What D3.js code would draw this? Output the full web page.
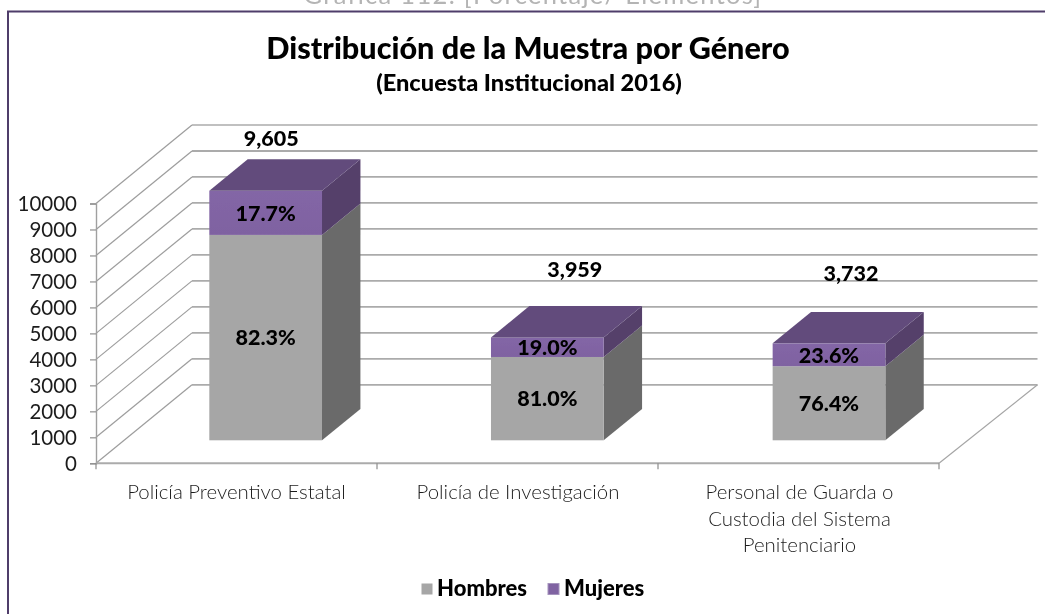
<!DOCTYPE html>
<html><head><meta charset="utf-8">
<script src="https://cdn.jsdelivr.net/npm/d3@7/dist/d3.min.js"></script>
<style>html,body{margin:0;padding:0;background:#fff}svg{display:block}text{font-family:Lato,sans-serif}</style>
</head><body><svg id="c" width="1045" height="614"></svg>
<script>
const pageCaption = "Gráfica 112. [Porcentaje/ Elementos]";
const titleText = "Distribución de la Muestra por Género";
const subtitleText = "(Encuesta Institucional 2016)";
const categories = ["Policía Preventivo Estatal","Policía de Investigación","Personal de Guarda o|Custodia del Sistema|Penitenciario"];
const seriesNames = ["Hombres","Mujeres"];
const hombres = [7905,3207,2851];
const mujeres = [1700,752,881];
const hombresLabels = ["82.3%","81.0%","76.4%"];
const mujeresLabels = ["17.7%","19.0%","23.6%"];
const totalLabels = ["9,605","3,959","3,732"];
const yTicks = [0,1000,2000,3000,4000,5000,6000,7000,8000,9000,10000];

const C = {grey:"#a6a6a6",greySide:"#6b6b6b",purple:"#8064a2",purpleTop:"#624c7b",purpleSide:"#543f6b",grid:"#ababab",axisText:"#1c1c1c",frame:"#4f3d6b"};
const svg = d3.select("#c");
const defs = svg.append("defs");
defs.append("filter").attr("id","soft").attr("x",0).attr("y",0).attr("width","100%").attr("height","100%")
  .append("feGaussianBlur").attr("stdDeviation",0.4);
const root = svg.append("g").attr("filter","url(#soft)");
root.append("rect").attr("width",1045).attr("height",614).attr("fill","#fff");

const y = d3.scaleLinear().domain([0,10000]).range([463.3,203.5]);
const x = d3.scaleBand().domain(categories).range([96,939]);
const xBar = d3.scaleBand().domain(categories).range([95,940]);
// oblique depth projection
const dX = d3.scaleLinear().domain([0,1]).range([0,96]);
const dY = d3.scaleLinear().domain([0,1]).range([0,-78.5]);
const barW = 112.7, dNear = 0.293, dFar = 0.693, barShift = 1.7, gridEnd = 1037.5;
const totalNudge = [[5.5,-21],[27.5,-37],[22,-39]];

// page caption and frame
root.append("text").attr("x",533).attr("y",4).attr("text-anchor","middle").attr("fill","#b4b4b4")
  .style("font-size","25.5px").style("letter-spacing","1.3px").text(pageCaption);
root.append("path").attr("d","M8,614V11.5H1045").attr("fill","none").attr("stroke",C.frame).attr("stroke-width",2);

// titles
root.append("text").attr("x",528).attr("y",59).attr("text-anchor","middle").attr("font-weight",900)
  .attr("fill","#000").style("font-size","30.6px").text(titleText);
root.append("text").attr("x",529).attr("y",91).attr("text-anchor","middle").attr("font-weight",900)
  .attr("fill","#000").style("font-size","23.6px").text(subtitleText);

const g = root.append("g");
// walls
g.selectAll("path.wall").data(yTicks).join("path").attr("class","wall")
  .attr("d",t=>`M${x.range()[0]},${y(t)}L${x.range()[0]+dX(1)},${y(t)+dY(1)}`)
  .attr("fill","none").attr("stroke","#9d9d9d").attr("stroke-width",1.2);
g.selectAll("line.grid").data(yTicks).join("line").attr("class","grid")
  .attr("x1",x.range()[0]+dX(1)).attr("x2",gridEnd)
  .attr("y1",t=>y(t)+dY(1)).attr("y2",t=>y(t)+dY(1))
  .attr("stroke",C.grid).attr("stroke-width",t=>t===10000?1.4:1.8);
// floor
g.append("path").attr("d",`M${x.range()[1]},${y(0)}L${gridEnd},${y(0)+dY(1)}`)
  .attr("stroke","#a5a5a5").attr("stroke-width",1.2).attr("fill","none");

// y axis through d3
const ax = g.append("g").attr("transform",`translate(${x.range()[0]},0)`)
  .call(d3.axisLeft(y).tickValues(yTicks).tickFormat(d3.format("d")).tickSize(6).tickPadding(13));
ax.select(".domain").attr("stroke","#a0a0a0").attr("stroke-width",1.4);
ax.selectAll(".tick line").attr("stroke","#909090").attr("stroke-width",1.2);
ax.selectAll(".tick text").attr("fill",C.axisText).style("font-size","20.5px").style("font-family","Lato,sans-serif").attr("dy","0.36em");

// x axis through d3
const bx = g.append("g").attr("transform",`translate(0,${y(0)})`)
  .call(d3.axisBottom(x).tickSize(0).tickFormat(""));
bx.select(".domain").attr("stroke","#ababab").attr("stroke-width",2).attr("d",`M${x.range()[0]},0H${x.range()[1]}`);
g.selectAll("line.xt").data([0,1,2,3]).join("line").attr("class","xt")
  .attr("x1",i=>x.range()[0]+i*x.step()).attr("x2",i=>x.range()[0]+i*x.step())
  .attr("y1",y(0)).attr("y2",y(0)+6).attr("stroke","#8c8c8c").attr("stroke-width",1.2);

// bars
const gr = defs.append("linearGradient").attr("id","pf").attr("x1",0).attr("x2",0).attr("y1",0).attr("y2",1);
gr.append("stop").attr("offset",0).attr("stop-color","#8366a6");
gr.append("stop").attr("offset",1).attr("stop-color","#7f62a1");

const bars = categories.map((c,i)=>({c,i,h:hombres[i],m:mujeres[i],
  left:xBar(c)+xBar.bandwidth()/2+dX(dNear)-barW/2+barShift}));
const oy = dY(dNear), bdx = dX(dFar)-dX(dNear), bdy = dY(dFar)-dY(dNear);
const bg = g.selectAll("g.bar").data(bars).join("g").attr("class","bar");
function seg(sel,lo,hi,front,side,top){
  sel.append("path").attr("fill",side).attr("d",d=>{const r=d.left+barW,a=y(lo(d))+oy,b=y(hi(d))+oy;
    return `M${r},${a}L${r+bdx},${a+bdy}L${r+bdx},${b+bdy}L${r},${b}Z`;});
  sel.append("rect").attr("fill",front).attr("x",d=>d.left).attr("width",barW)
    .attr("y",d=>y(hi(d))+oy).attr("height",d=>y(lo(d))-y(hi(d)));
  if(top) sel.append("path").attr("fill",top).attr("d",d=>{const l=d.left,b=y(hi(d))+oy;
    return `M${l},${b}L${l+bdx},${b+bdy}H${l+barW+bdx}L${l+barW},${b}Z`;});
}
seg(bg,d=>0,d=>d.h,C.grey,C.greySide);
seg(bg,d=>d.h,d=>d.h+d.m,"url(#pf)",C.purpleSide,C.purpleTop);

// value labels
const lab = (s,yf,tf)=>s.append("text").attr("x",d=>d.left+barW/2).attr("y",yf).attr("dy","0.36em")
  .attr("text-anchor","middle").attr("font-weight",900).attr("fill","#000").style("font-size","21.5px").text(tf);
lab(bg,d=>y(d.h/2)+oy,d=>hombresLabels[d.i]);
lab(bg,d=>y(d.h+d.m/2)+oy,d=>mujeresLabels[d.i]);
bg.append("text").attr("x",d=>d.left+barW/2+totalNudge[d.i][0])
  .attr("y",d=>y(d.h+d.m)+oy+bdy+totalNudge[d.i][1]).attr("dy","0.36em")
  .attr("text-anchor","middle").attr("font-weight",900).attr("fill","#000").style("font-size","21.5px")
  .text(d=>totalLabels[d.i]);

// category labels
const catCx = [0,0.5,1];
g.selectAll("text.cat").data(categories).join("text").attr("class","cat")
  .attr("text-anchor","middle").attr("fill",C.axisText).style("font-size","20.4px").style("font-weight",300)
  .each(function(c,i){
    const cx = x(c)+x.bandwidth()/2+catCx[i];
    d3.select(this).selectAll("tspan").data(c.split("|")).join("tspan")
      .attr("x",cx).attr("y",(t,k)=>499+k*26.7).text(t=>t);
  });

// legend
const lg = root.append("g");
const legendX = [[421.5,437],[548,564]];
seriesNames.forEach((n,i)=>{
  lg.append("rect").attr("x",legendX[i][0]).attr("y",583.5).attr("width",11).attr("height",11)
    .attr("fill",i?C.purple:C.grey).attr("stroke",i?"#a594bd":"none");
  lg.append("text").attr("x",legendX[i][1]).attr("y",596).attr("font-weight",900).attr("fill","#000")
    .style("font-size","22px").text(n);
});
</script></body></html>
